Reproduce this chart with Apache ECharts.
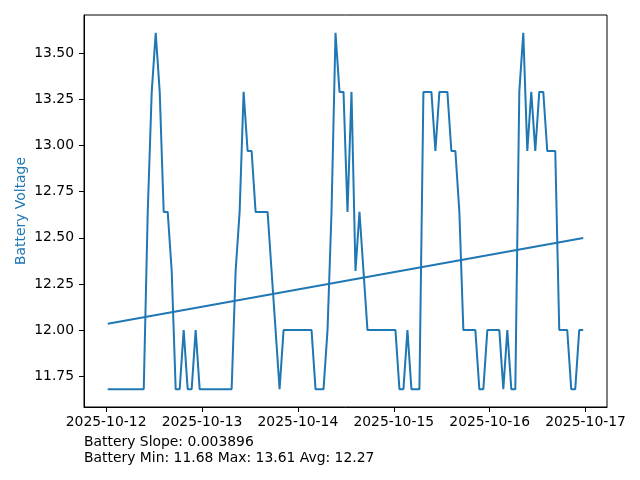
<!DOCTYPE html>
<html>
<head>
<meta charset="utf-8">
<script src="https://cdn.jsdelivr.net/npm/echarts@6/dist/echarts.min.js"></script>
<style>
html,body{margin:0;padding:0;background:#fff;}
#chart{width:640px;height:480px;}
</style>
</head>
<body>
<div id="chart"></div>
<script>
// Hourly battery voltage samples starting 2025-10-12 00:25 (UTC)
var startTime = '2025-10-12T00:25:00Z';
var stepHours = 1;
var batteryVoltage = [
  11.68,11.68,11.68,11.68,11.68,11.68,11.68,11.68,11.68,11.68,
  12.64,13.29,13.61,13.29,12.64,12.64,12.32,11.68,11.68,12.00,
  11.68,11.68,12.00,11.68,11.68,11.68,11.68,11.68,11.68,11.68,
  11.68,11.68,12.32,12.64,13.29,12.97,12.97,12.64,12.64,12.64,
  12.64,12.32,12.00,11.68,12.00,12.00,12.00,12.00,12.00,12.00,
  12.00,12.00,11.68,11.68,11.68,12.00,12.64,13.61,13.29,13.29,
  12.64,13.29,12.32,12.64,12.32,12.00,12.00,12.00,12.00,12.00,
  12.00,12.00,12.00,11.68,11.68,12.00,11.68,11.68,11.68,13.29,
  13.29,13.29,12.97,13.29,13.29,13.29,12.97,12.97,12.64,12.00,
  12.00,12.00,12.00,11.68,11.68,12.00,12.00,12.00,12.00,11.68,
  12.00,11.68,11.68,13.29,13.61,12.97,13.29,12.97,13.29,13.29,
  12.97,12.97,12.97,12.00,12.00,12.00,11.68,11.68,12.00,12.00
];
var xTickLabels = ['2025-10-12','2025-10-13','2025-10-14','2025-10-15','2025-10-16','2025-10-17'];
var yTicks = [11.75, 12.00, 12.25, 12.50, 12.75, 13.00, 13.25, 13.50];
var yAxisTitle = 'Battery Voltage';
var statsLine1 = 'Battery Slope: 0.003896';
var statsLine2 = 'Battery Min: 11.68 Max: 13.61 Avg: 12.27';

var t0 = Date.parse(startTime);
var HOUR = 3600000;
var seriesData = batteryVoltage.map(function (v, i) { return [t0 + i * stepHours * HOUR, v]; });

// least-squares trend over sample index
var n = batteryVoltage.length;
var sx = 0, sy = 0, sxx = 0, sxy = 0;
for (var i = 0; i < n; i++) { sx += i; sy += batteryVoltage[i]; sxx += i * i; sxy += i * batteryVoltage[i]; }
var slope = (n * sxy - sx * sy) / (n * sxx - sx * sx);
var intercept = (sy - slope * sx) / n;
var trendData = [
  [seriesData[0][0], intercept],
  [seriesData[n - 1][0], intercept + slope * (n - 1)]
];

var xFirst = seriesData[0][0], xLast = seriesData[n - 1][0];
var xSpan = xLast - xFirst;
var yMinD = Math.min.apply(null, batteryVoltage), yMaxD = Math.max.apply(null, batteryVoltage);
var ySpan = yMaxD - yMinD;

var xTickValues = xTickLabels.map(function (s) { return Date.parse(s + 'T00:00:00Z'); });
var FONT = 'DejaVu Sans';
var FS = 13.9;

var chart = echarts.init(document.getElementById('chart'), null, {renderer: 'canvas'});
chart.setOption({
  animation: false,
  backgroundColor: '#ffffff',
  grid: {left: 84, right: 33, top: 15, bottom: 73, show: true, borderColor: '#000', borderWidth: 1, containLabel: false},
  xAxis: {
    type: 'value',
    min: xFirst - 0.05 * xSpan,
    max: xLast + 0.05 * xSpan,
    axisLine: {show: true, lineStyle: {color: '#000', width: 1}},
    axisTick: {show: true, length: 5, lineStyle: {color: '#000', width: 1}, customValues: xTickValues},
    axisLabel: {
      color: '#000', fontFamily: FONT, fontSize: FS, margin: 8,
      customValues: xTickValues,
      formatter: function (v) {
        var idx = xTickValues.indexOf(v);
        return idx >= 0 ? xTickLabels[idx] : '';
      }
    },
    splitLine: {show: false}
  },
  yAxis: {
    type: 'value',
    min: yMinD - 0.05 * ySpan,
    max: yMaxD + 0.05 * ySpan,
    axisLine: {show: true, lineStyle: {color: '#000', width: 1}},
    axisTick: {show: true, length: 5, lineStyle: {color: '#000', width: 1}, customValues: yTicks},
    axisLabel: {
      color: '#000', fontFamily: FONT, fontSize: FS, margin: 10,
      customValues: yTicks,
      formatter: function (v) { return v.toFixed(2); }
    },
    splitLine: {show: false}
  },
  series: [
    {
      type: 'line', data: seriesData, showSymbol: false, symbol: 'none',
      lineStyle: {color: '#1f77b4', width: 2}, itemStyle: {color: '#1f77b4'}, z: 3
    },
    {
      type: 'line', data: trendData, showSymbol: false, symbol: 'none',
      lineStyle: {color: '#1f77b4', width: 2}, itemStyle: {color: '#1f77b4'}, z: 3
    }
  ],
  graphic: [
    {type: 'text', x: 21, y: 211, rotation: Math.PI / 2,
     style: {text: yAxisTitle, fill: '#1f77b4', font: FS + 'px "' + FONT + '"', align: 'center', verticalAlign: 'middle'}},
    {type: 'text', left: 84, top: 435, style: {text: statsLine1, fill: '#000', font: FS + 'px "' + FONT + '"'}},
    {type: 'text', left: 84, top: 451, style: {text: statsLine2, fill: '#000', font: FS + 'px "' + FONT + '"'}}
  ]
});
</script>
</body>
</html>
